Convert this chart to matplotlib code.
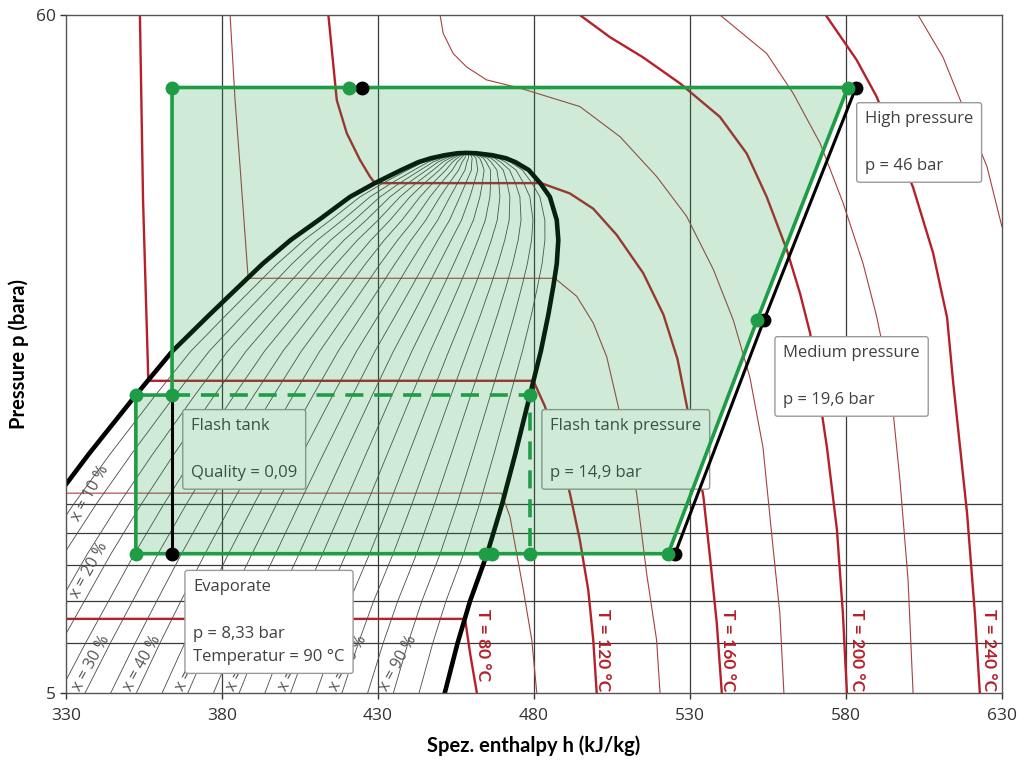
import numpy as np
import matplotlib
matplotlib.use("Agg")
import matplotlib.pyplot as plt
from matplotlib.ticker import NullLocator, FixedLocator

plt.rcParams['font.family'] = ['Open Sans', 'DejaVu Sans']
BOLD = ['Lato', 'DejaVu Sans']

# saturation dome (p in bar, h in kJ/kg)
sat_p = [5, 6, 7, 8.33, 10, 12, 14.9, 17.5, 20, 22.2, 24.1, 26.3, 28.3, 30.8, 32.4,
         34.0, 35.0, 35.5, 35.9, 36.15, 36.2]
sat_hl = [286.7, 296.5, 305.0, 314.3, 325.3, 337.3, 352.4, 364.1, 376.0, 385.5, 393.0,
          402.0, 411.0, 421.0, 429.0, 437.5, 443.0, 447.0, 451.5, 455.5, 458.4]
sat_hv = [451.4, 455.5, 459.5, 465.0, 469.8, 474.0, 478.7, 482.2, 484.6, 486.2, 487.3,
          487.8, 487.3, 485.1, 482.0, 478.3, 474.0, 471.0, 466.5, 461.5, 458.4]

qualities = [0.05, 0.10, 0.15, 0.20, 0.25, 0.30, 0.35, 0.40, 0.45, 0.50,
             0.55, 0.60, 0.65, 0.70, 0.75, 0.80, 0.85, 0.90, 0.95]
quality_labels = [10, 20, 30, 40, 50, 60, 70, 80, 90]
quality_label_h = [337.7, 337.4, 338.2, 354.5, 371.0, 387.5, 404.0, 420.5, 436.5]
quality_label_p = [10.4, 7.85, 5.58, 5.58, 5.58, 5.58, 5.58, 5.58, 5.58]

# isotherms
t80_h = [292.0, 457.9, 459.6, 461.7]
t80_p = [6.56, 6.56, 5.75, 5.0]
t100_h = [325.8, 469.6, 472.3, 476.6, 479.3, 480.9]
t100_p = [10.4, 10.4, 9.54, 7.29, 6.07, 5.0]
t120_h = [353.7, 354.7, 356.4, 479.8, 483.5, 487.5, 491.5, 494.7, 497.4, 499.0, 500.1]
t120_p = [60, 30.5, 15.7, 15.7, 14.3, 12.4, 10.4, 8.76, 7.29, 6.07, 5.0]
t140_h = [382.6, 384.2, 385.8, 388.4, 486.7, 493.7, 499.0, 503.3, 507.0, 510.0,
          512.9, 516.1, 519.3, 520.4]
t140_p = [60, 43.9, 34.4, 22.86, 22.86, 21.4, 19.4, 17.15, 14.3, 12.2, 10.4, 7.75, 6.07, 5.0]
t160_h = [414.1, 416.8, 420.0, 424.2, 427.4, 429.0, 482.3, 491.5, 499.0, 506.5, 515.0,
          521.5, 526.0, 529.0, 531.5, 534.3, 536.4, 538.6, 540.2]
t160_p = [60, 43.9, 38.9, 35.3, 33.2, 32.4, 32.4, 31.2, 29.5, 26.8, 23.3, 20.0, 17.0,
          14.3, 12.3, 10.27, 8.24, 6.45, 5.0]
t180_h = [449.9, 450.9, 454.1, 458.4, 464.8, 475.5, 494.7, 507.6, 519.3, 528.9, 537.5,
          543.9, 549.2, 553.4, 556.6, 558.8, 560.1]
t180_p = [60, 56.1, 52.1, 49.6, 47.3, 45.9, 42.9, 38.4, 33.2, 28.7, 23.6, 19.6, 15.9,
          12.3, 8.54, 6.70, 5.0]
t200_h = [494.7, 504.4, 514.9, 526.8, 539.6, 548.2, 554.6, 561.0, 565.3, 568.5, 570.7,
          573.9, 577.1, 579.0, 580.3]
t200_p = [60, 55.3, 51.4, 46.7, 41.3, 36.1, 30.8, 25.4, 21.6, 18.7, 15.7, 12.3, 9.09, 6.70, 5.0]
t220_h = [539.6, 554.6, 563.1, 571.7, 579.1, 585.5, 589.8, 594.1, 597.3, 599.9, 601.5]
t220_p = [60, 52.1, 45.0, 37.5, 30.1, 24.1, 19.9, 15.7, 10.9, 7.56, 5.0]
t240_h = [573.5, 583.4, 589.8, 601.5, 607.9, 612.4, 614.3, 618.8, 621.3, 622.9]
t240_p = [60, 50.9, 44.5, 31.9, 25.1, 19.8, 15.7, 9.67, 6.70, 5.0]
t260_h = [603.1, 611.1, 618.8, 625.2, 630.0]
t260_p = [60, 51.4, 41.3, 34.4, 27.6]

iso_labels = ['T = 80 °C', 'T = 120 °C', 'T = 160 °C', 'T = 200 °C', 'T = 240 °C']
iso_label_h = [463.8, 502.2, 542.1, 583.4, 625.8]

# heat pump cycle
p_high, p_med, p_flash, p_evap = 46.0, 19.6, 14.9, 8.33
cycle_fill_h = [364.0, 580.6, 551.5, 523.0, 352.4, 352.4, 364.0]
cycle_fill_p = [p_high, p_high, p_med, p_evap, p_evap, p_flash, p_flash]
green_line_h = [364.0, 364.0, 580.6, 551.5, 523.0, 352.4, 352.4, 364.0]
green_line_p = [p_flash, p_high, p_high, p_med, p_evap, p_evap, p_flash, p_flash]
dashed_h = [364.0, 478.7, 478.7]
dashed_p = [p_flash, p_flash, p_evap]
black_line_h = [525.2, 553.7, 583.2]
black_line_p = [p_evap, p_med, p_high]
valve_h = [364.0, 364.0]
valve_p = [p_flash, p_evap]
green_pts_h = [364.0, 420.7, 580.6, 551.5, 523.0, 352.4, 352.4, 364.0, 478.7, 478.7, 464.3, 466.4]
green_pts_p = [p_high, p_high, p_high, p_med, p_evap, p_evap, p_flash, p_flash, p_flash, p_evap, p_evap, p_evap]
black_pts_h = [364.0, 424.9, 583.2, 553.7, 525.2]
black_pts_p = [p_evap, p_high, p_high, p_med, p_evap]

grid_h = [380, 430, 480, 530, 580]
grid_p = [6, 7, 8, 9, 10]

fig = plt.figure(figsize=(10.26, 7.62), dpi=100)
ax = fig.add_axes([0.0643, 0.0906, 0.9123, 0.8897])
ax.set_yscale('log')
ax.set_xlim(330, 630)
ax.set_ylim(5, 60)

for h in grid_h:
    ax.axvline(h, color='#3a3a3a', lw=0.9, zorder=0.5)
for p in grid_p:
    ax.axhline(p, color='#3a3a3a', lw=0.9, zorder=0.5)

red = '#b5202b'
red_thin = '#a8403f'
for hh, pp in [(t80_h, t80_p), (t120_h, t120_p), (t160_h, t160_p), (t200_h, t200_p), (t240_h, t240_p)]:
    ax.plot(hh, pp, color=red, lw=1.7, zorder=1)
for hh, pp in [(t100_h, t100_p), (t140_h, t140_p), (t180_h, t180_p), (t220_h, t220_p), (t260_h, t260_p)]:
    ax.plot(hh, pp, color=red_thin, lw=0.8, zorder=1)

for txt, h in zip(iso_labels, iso_label_h):
    ax.text(h, 6.8, txt, rotation=-90, ha='center', va='top', color=red,
            fontsize=12.5, fontweight='bold', family=BOLD, zorder=2, clip_on=True)

# quality lines
hl = np.array(sat_hl)
hv = np.array(sat_hv)
for q in qualities:
    ax.plot(hl + q * (hv - hl), sat_p, color='#4a4a4a', lw=0.6, zorder=1.2)
for q, h, p in zip(quality_labels, quality_label_h, quality_label_p):
    ax.text(h, p, f'x = {q} %', rotation=61, ha='center', va='center',
            color='#555555', fontsize=11.5, zorder=1.5)

# dome
ax.plot(sat_hl + sat_hv[::-1][1:], sat_p + sat_p[::-1][1:], color='black', lw=3.3, zorder=2)

# info boxes
box = dict(boxstyle='round,pad=0.5,rounding_size=0.15', facecolor='white',
           edgecolor='#9a9a9a', lw=1)
txt_kw = dict(ha='left', va='top', fontsize=12, color='#404040', linespacing=1.62, zorder=3, bbox=box)
ax.text(586.1, 42.2, 'High pressure\n\np = 46 bar', **txt_kw)
ax.text(559.9, 17.9, 'Medium pressure\n\np = 19,6 bar', **txt_kw)
ax.text(485.2, 13.7, 'Flash tank pressure\n\np = 14,9 bar', **txt_kw)
ax.text(370.1, 13.7, 'Flash tank\n\nQuality = 0,09', **txt_kw)
ax.text(370.8, 7.6, 'Evaporate\n\np = 8,33 bar\nTemperatur = 90 °C', **txt_kw)

green = '#1e9c46'
ax.fill(cycle_fill_h, cycle_fill_p, color=green, alpha=0.21, lw=0, zorder=4)
ax.plot(black_line_h, black_line_p, color='black', lw=2.2, zorder=5)
ax.plot(valve_h, valve_p, color='black', lw=2.2, zorder=5)
ax.plot(green_line_h, green_line_p, color=green, lw=2.6, zorder=5.5)
ax.plot(dashed_h, dashed_p, color=green, lw=2.6, dashes=(5, 3), zorder=5.5)
ax.plot(black_pts_h, black_pts_p, 'o', color='black', ms=9, zorder=6)
ax.plot(green_pts_h, green_pts_p, 'o', color=green, ms=9, zorder=6.5)

ax.yaxis.set_major_locator(FixedLocator([5, 60]))
ax.yaxis.set_minor_locator(NullLocator())
ax.set_yticklabels(['5', '60'])
ax.set_xticks([330, 380, 430, 480, 530, 580, 630])
ax.tick_params(axis='both', labelsize=12.5, colors='#333333', length=4, width=1)
ax.tick_params(axis='x', pad=7)
for s in ax.spines.values():
    s.set_color('#555555')
    s.set_linewidth(1)

ax.set_xlabel('Spez. enthalpy h (kJ/kg)', fontsize=14.5, fontweight='bold', family=BOLD, labelpad=8)
ax.set_ylabel('Pressure p (bara)', fontsize=14.5, fontweight='bold', family=BOLD)
ax.yaxis.set_label_coords(-0.04, 0.5)

fig.savefig('out.png', dpi=100)
